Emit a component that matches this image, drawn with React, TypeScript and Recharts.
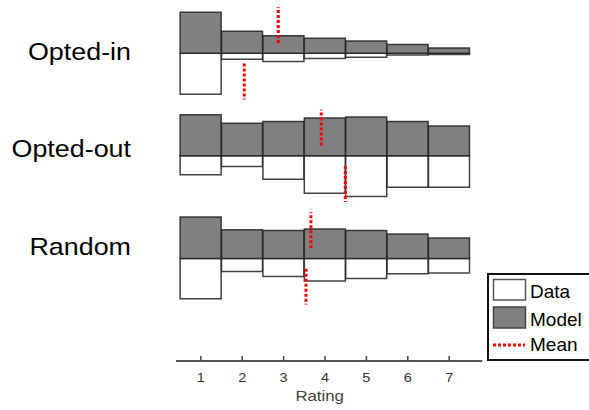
import React from 'react';
import { ComposedChart, Bar, XAxis, YAxis, ReferenceLine, Legend } from 'recharts';

// ---- data ----
const RATINGS = [1, 2, 3, 4, 5, 6, 7];
const GROUPS = ['Opted-in', 'Opted-out', 'Random'];
const OPTED_IN_MODEL = [40, 21.4, 17.2, 14.6, 12, 8.5, 5.2];
const OPTED_IN_DATA = [40, 5.8, 8.1, 5.2, 3.9, 1.7, 1.3];
const OPTED_OUT_MODEL = [40, 31.9, 33.4, 36.8, 38, 33.4, 29];
const OPTED_OUT_DATA = [18.5, 10.4, 22.7, 36.4, 39.7, 30.5, 30.5];
const RANDOM_MODEL = [40.4, 28, 27.3, 28.7, 27.3, 23.8, 19.9];
const RANDOM_DATA = [39.3, 12.7, 17.5, 22, 19.5, 14.9, 14.2];
const MODEL_MEANS = [2.87, 3.91, 3.66];
const DATA_MEANS = [2.05, 4.49, 3.54];
const X_TICKS = [1, 2, 3, 4, 5, 6, 7];
const LEGEND_LABELS = ['Data', 'Model', 'Mean'];

// ---- layout constants ----
const ROW_BASELINES = [300, 200, 100];
const ROW_LABEL_TICKS = [293.5, 199.2, 103.3];
const MEAN_EXTENT = [10, 45];

const MODELS = [OPTED_IN_MODEL, OPTED_OUT_MODEL, RANDOM_MODEL];
const DATAS = [OPTED_IN_DATA, OPTED_OUT_DATA, RANDOM_DATA];

const chartData = RATINGS.map((r, i) => {
  const m = MODELS.map((a) => a[i]);
  const d = DATAS.map((a) => a[i]);
  const sp3 = ROW_BASELINES[2] - d[2];
  const sp2 = ROW_BASELINES[1] - d[1] - (ROW_BASELINES[2] + m[2]);
  const sp1 = ROW_BASELINES[0] - d[0] - (ROW_BASELINES[1] + m[1]);
  return { rating: r, sp3, d3: d[2], m3: m[2], sp2, d2: d[1], m2: m[1], sp1, d1: d[0], m1: m[0] };
});

const FONT = '"Liberation Sans", Arial, sans-serif';
const GRAY = '#808080';
const EDGE = '#222';
const STRETCH = 1.12;

const XTick = (props: any) => {
  const { x, y, payload } = props;
  return (
    <g>
      <line x1={x} x2={x} y1={y} y2={y - 5} stroke="#444" strokeWidth={1.5} />
      <text
        transform={`translate(${x},${y + 20.8}) scale(${STRETCH},1)`}
        x={0}
        y={0}
        textAnchor="middle"
        fontSize={13}
        fill="#333"
        fontFamily={FONT}
      >
        {payload.value}
      </text>
    </g>
  );
};

const YTick = (props: any) => {
  const { x, y, index } = props;
  return (
    <text
      transform={`translate(${x - 45},${y}) scale(${STRETCH},1)`}
      x={0}
      y={0}
      textAnchor="end"
      fontSize={24}
      fill="#000"
      fontFamily={FONT}
    >
      {GROUPS[index]}
    </text>
  );
};

const LegendBox = () => (
  <svg width={102} height={88} style={{ display: 'block' }}>
    <rect x={1} y={1} width={120} height={86} fill="#fff" stroke="#111" strokeWidth={2} />
    <rect x={6.5} y={6.5} width={32} height={20.5} fill="#fff" stroke="#555" strokeWidth={1.5} />
    <text x={43} y={25.3} fontSize={19} fontFamily={FONT} fill="#000">{LEGEND_LABELS[0]}</text>
    <rect x={6.5} y={34} width={32} height={21} fill={GRAY} stroke="#444" strokeWidth={1.5} />
    <text x={43} y={53} fontSize={19} fontFamily={FONT} fill="#000">{LEGEND_LABELS[1]}</text>
    <line x1={6} x2={38} y1={72} y2={72} stroke="#ff0000" strokeWidth={3} strokeDasharray="3 2" />
    <text x={43} y={78} fontSize={19} fontFamily={FONT} fill="#000">{LEGEND_LABELS[2]}</text>
  </svg>
);

const RatingLabel = (props: any) => {
  const vb = props.viewBox || { x: 176, y: 361, width: 306 };
  return (
    <text
      transform={`translate(${vb.x + vb.width / 2 - 9.5},${vb.y + 39.7}) scale(${STRETCH},1)`}
      x={0}
      y={0}
      textAnchor="middle"
      fontSize={15}
      fill="#444"
      fontFamily={FONT}
    >
      Rating
    </text>
  );
};

export default function App() {
  const barProps = { stackId: 's', isAnimationActive: false, strokeWidth: 1.5, stroke: EDGE, strokeOpacity: 0.85 };
  const spacer = { stackId: 's', isAnimationActive: false, fill: 'transparent', stroke: 'none' };
  return (
    <div style={{ position: 'absolute', left: 0, top: 0, width: 589, height: 410, overflow: 'hidden', background: '#fff' }}>
      <ComposedChart
        width={589}
        height={410}
        data={chartData}
        margin={{ top: 2, right: 106.7, bottom: 0, left: 0 }}
        barCategoryGap={0}
        barGap={0}
      >
        <XAxis
          dataKey="rating"
          type="number"
          domain={[0.4, 7.8]}
          ticks={X_TICKS}
          interval={0}
          height={49}
          tickSize={0}
          tickMargin={0}
          tickLine={false}
          axisLine={{ stroke: '#555', strokeWidth: 2 }}
          tick={<XTick />}
          label={{ content: <RatingLabel /> }}
        />
        <YAxis
          type="number"
          domain={[0, 350]}
          ticks={ROW_LABEL_TICKS}
          interval={0}
          width={176}
          tickSize={0}
          tickMargin={0}
          axisLine={false}
          tickLine={false}
          tick={<YTick />}
        />
        <Bar dataKey="sp3" {...spacer} />
        <Bar dataKey="d3" fill="#fff" {...barProps} />
        <Bar dataKey="m3" fill={GRAY} {...barProps} />
        <Bar dataKey="sp2" {...spacer} />
        <Bar dataKey="d2" fill="#fff" {...barProps} />
        <Bar dataKey="m2" fill={GRAY} {...barProps} />
        <Bar dataKey="sp1" {...spacer} />
        <Bar dataKey="d1" fill="#fff" {...barProps} />
        <Bar dataKey="m1" fill={GRAY} {...barProps} />
        {ROW_BASELINES.map((b, k) => (
          <ReferenceLine
            key={'m' + k}
            segment={[{ x: MODEL_MEANS[k], y: b + MEAN_EXTENT[0] }, { x: MODEL_MEANS[k], y: b + MEAN_EXTENT[1] }]}
            stroke="#ff0000"
            strokeWidth={3}
            strokeDasharray="3 2"
          />
        ))}
        {ROW_BASELINES.map((b, k) => (
          <ReferenceLine
            key={'d' + k}
            segment={[{ x: DATA_MEANS[k], y: b - MEAN_EXTENT[0] }, { x: DATA_MEANS[k], y: b - MEAN_EXTENT[1] }]}
            stroke="#ff0000"
            strokeWidth={3}
            strokeDasharray="3 2"
          />
        ))}
        <Legend
          layout="horizontal"
          verticalAlign="middle"
          align="center"
          wrapperStyle={{ position: 'absolute', left: 487, top: 273, width: 102, height: 88, margin: 0, padding: 0 }}
          content={() => <LegendBox />}
        />
      </ComposedChart>
    </div>
  );
}
